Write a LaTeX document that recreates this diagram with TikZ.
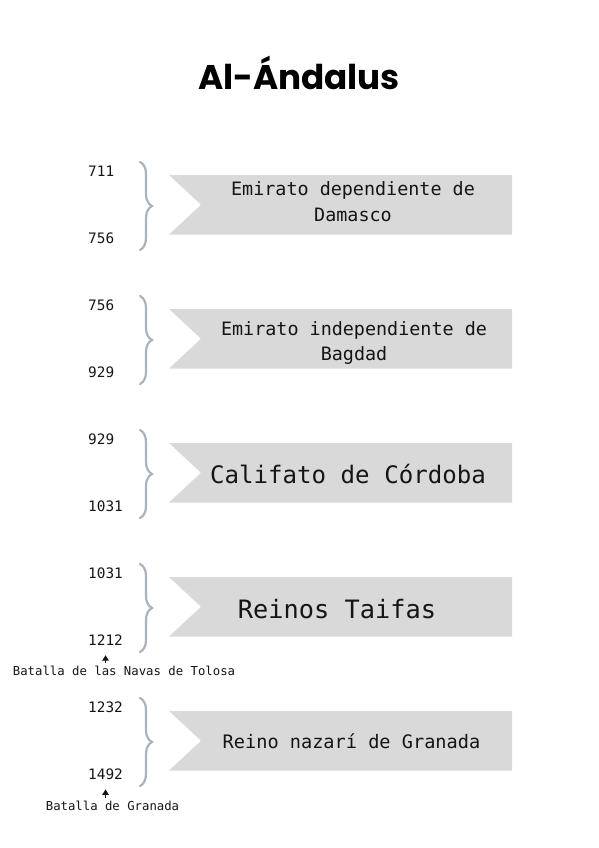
\documentclass[tikz,border=0pt]{standalone}
\usepackage{fontspec}
\usetikzlibrary{decorations.pathreplacing,arrows.meta}
\newfontfamily\monof{DejaVu Sans Mono}
\newfontfamily\titlef{Poppins Bold}
\definecolor{bannergray}{HTML}{D9D9D9}
\definecolor{bracegray}{HTML}{A9B3BE}
\definecolor{ink}{HTML}{151515}
\tikzset{
  banner/.style={fill=bannergray, draw=none},
  bracestyle/.style={draw=bracegray, line width=2.2pt, line cap=round,
    decorate, decoration={brace, amplitude=12pt}},
  yearlbl/.style={anchor=base west, inner sep=0pt, text=ink, font=\monof\fontsize{14.4}{17}\selectfont},
  bantxt/.style={anchor=base, inner sep=0pt, text=ink, align=center},
  smalllbl/.style={anchor=base, inner sep=0pt, text=ink, font=\monof\fontsize{12.3}{15}\selectfont},
  arr/.style={draw=ink, line width=1.5pt, -{Triangle[width=6.5pt,length=5.5pt]}},
}
\begin{document}
\begin{tikzpicture}[x=1pt,y=-1pt]
\useasboundingbox (0,0) rectangle (599,848);
\node[anchor=base, inner sep=0pt, text=black] (title) at (299,89.3)
  {\resizebox{202pt}{!}{\titlef\fontsize{27}{30}\selectfont Al-Ándalus}};
% banners
\foreach \k/\nm in {0/b1,1/b2,2/b3,3/b4,4/b5}{
  \pgfmathsetmacro{\t}{175+134*\k}
  \pgfmathsetmacro{\b}{234.5+134*\k}
  \pgfmathsetmacro{\m}{(\t+\b)/2}
  \path[banner] (169,\t) -- (512,\t) -- (512,\b) -- (169,\b) -- (201,\m) -- cycle;
  \draw[bracestyle] (140,{162+134*\k}) -- (140,{250+134*\k});
}
% banner texts
\node[bantxt, font=\monof\fontsize{18.4}{26}\selectfont] (t1) at (353,221.7) {Emirato dependiente de\\Damasco};
\node[bantxt, font=\monof\fontsize{18.4}{25}\selectfont] (t2) at (354,360) {Emirato independiente de\\Bagdad};
\node[bantxt, font=\monof\fontsize{24.1}{28}\selectfont] (t3) at (348,483.3) {Califato de Córdoba};
\node[bantxt, font=\monof\fontsize{25.3}{30}\selectfont] (t4) at (337,618.3) {Reinos Taifas};
\node[bantxt, font=\monof\fontsize{18.6}{24}\selectfont] (t5) at (351.5,748.3) {Reino nazarí de Granada};
% years
\node[yearlbl] (y711) at (88,176) {711};
\node[yearlbl] (y756a) at (88,243.5) {756};
\node[yearlbl] (y756b) at (88,310) {756};
\node[yearlbl] (y929a) at (88,377.5) {929};
\node[yearlbl] (y929b) at (88,444) {929};
\node[yearlbl] (y1031a) at (88,511.5) {1031};
\node[yearlbl] (y1031b) at (88,578) {1031};
\node[yearlbl] (y1212) at (88,645.5) {1212};
\node[yearlbl] (y1232) at (88,712) {1232};
\node[yearlbl] (y1492) at (88,779.5) {1492};
% battle labels
\node[smalllbl] (nav) at (124,675) {Batalla de las Navas de Tolosa};
\node[smalllbl] (gra) at (112.5,810) {Batalla de Granada};
\draw[arr, shorten <=2.5pt, shorten >=9.5pt] (y1212.south |- nav.north) -- (y1212.south);
\draw[arr, shorten <=2.5pt, shorten >=9.5pt] (y1492.south |- gra.north) -- (y1492.south);
\end{tikzpicture}
\end{document}
